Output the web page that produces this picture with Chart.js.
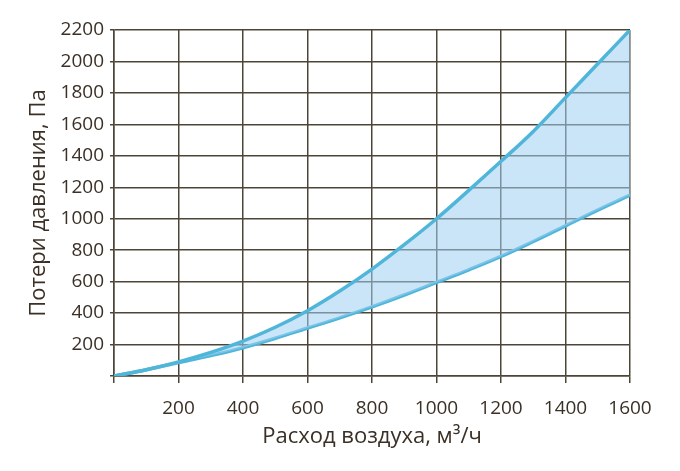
<!DOCTYPE html>
<html>
<head>
<meta charset="utf-8">
<script src="https://cdn.jsdelivr.net/npm/chart.js@4/dist/chart.umd.min.js"></script>
<style>
  html, body { margin: 0; padding: 0; background: #fff; }
  #wrap { width: 680px; height: 471px; }
</style>
</head>
<body>
<div id="wrap"><canvas id="myChart1"></canvas></div>
<script>
(() => {
    'use strict'

    // air flow, m3/h
    const flow = [0, 100, 200, 300, 400, 500, 600, 700, 800, 900, 1000, 1100, 1200, 1300, 1400, 1500, 1600]
    // pressure loss, Pa
    const upper = [0, 40, 90, 150, 222, 310, 415, 540, 680, 835, 1000, 1180, 1365, 1555, 1770, 1985, 2200]
    const lower = [0, 40, 85, 130, 180, 240, 305, 370, 440, 515, 595, 675, 760, 855, 955, 1055, 1150]

    const xTicks = [200, 400, 600, 800, 1000, 1200, 1400, 1600]
    const yTicks = [200, 400, 600, 800, 1000, 1200, 1400, 1600, 1800, 2000, 2200]

    const blue = '#4fb6da'
    const gridColor = '#4d4538'
    const textColor = '#3a3026'
    const fontFamily = '"Open Sans", "Noto Sans", sans-serif'

    const toPts = (ys) => flow.map((x, i) => ({ x: x, y: ys[i] }))

    const ctx = document.getElementById('myChart1')

    new Chart(ctx, {
        type: 'line',
        data: {
            datasets: [{
                data: toPts(upper),
                borderColor: blue,
                borderWidth: 3.5,
                backgroundColor: 'rgba(160, 208, 243, 0.55)',
                fill: '+1',
                pointRadius: 0,
                tension: 0.4
            }, {
                data: toPts(lower),
                borderColor: blue,
                borderWidth: 3.5,
                fill: false,
                pointRadius: 0,
                tension: 0.4
            }]
        },
        options: {
            responsive: true,
            maintainAspectRatio: false,
            animation: false,
            layout: {
                padding: { top: 30, right: 50, left: 0, bottom: 0 }
            },
            plugins: {
                legend: { display: false },
                tooltip: { enabled: false }
            },
            scales: {
                x: {
                    type: 'linear',
                    min: 0,
                    max: 1600,
                    afterBuildTicks: (axis) => {
                        axis.ticks = [0].concat(xTicks).map(v => ({ value: v }))
                    },
                    afterFit: (axis) => { axis.height = 95 },
                    grid: {
                        color: gridColor,
                        lineWidth: 1.5,
                        tickLength: 7,
                        drawTicks: true
                    },
                    border: { color: gridColor, width: 1.5 },
                    ticks: {
                        color: textColor,
                        font: { family: fontFamily, size: 19 },
                        padding: 14,
                        maxRotation: 0,
                        callback: (v) => v === 0 ? '' : v
                    },
                    title: {
                        display: true,
                        text: 'Расход воздуха, м³/ч',
                        color: textColor,
                        font: { family: fontFamily, size: 22 },
                        padding: { top: 0, bottom: 21 }
                    }
                },
                y: {
                    min: 0,
                    max: 2200,
                    afterBuildTicks: (axis) => {
                        axis.ticks = [0].concat(yTicks).map(v => ({ value: v }))
                    },
                    afterFit: (axis) => { axis.width = 114 },
                    grid: {
                        color: gridColor,
                        lineWidth: 1.5,
                        tickLength: 4
                    },
                    border: { color: gridColor, width: 1.5 },
                    ticks: {
                        color: textColor,
                        font: { family: fontFamily, size: 19 },
                        padding: 6,
                        callback: (v) => v === 0 ? '' : v
                    },
                    title: {
                        display: true,
                        text: 'Потери давления, Па',
                        color: textColor,
                        font: { family: fontFamily, size: 22 },
                        padding: { top: 26, bottom: 0 }
                    }
                }
            }
        }
    })
})()
</script>
</body>
</html>
